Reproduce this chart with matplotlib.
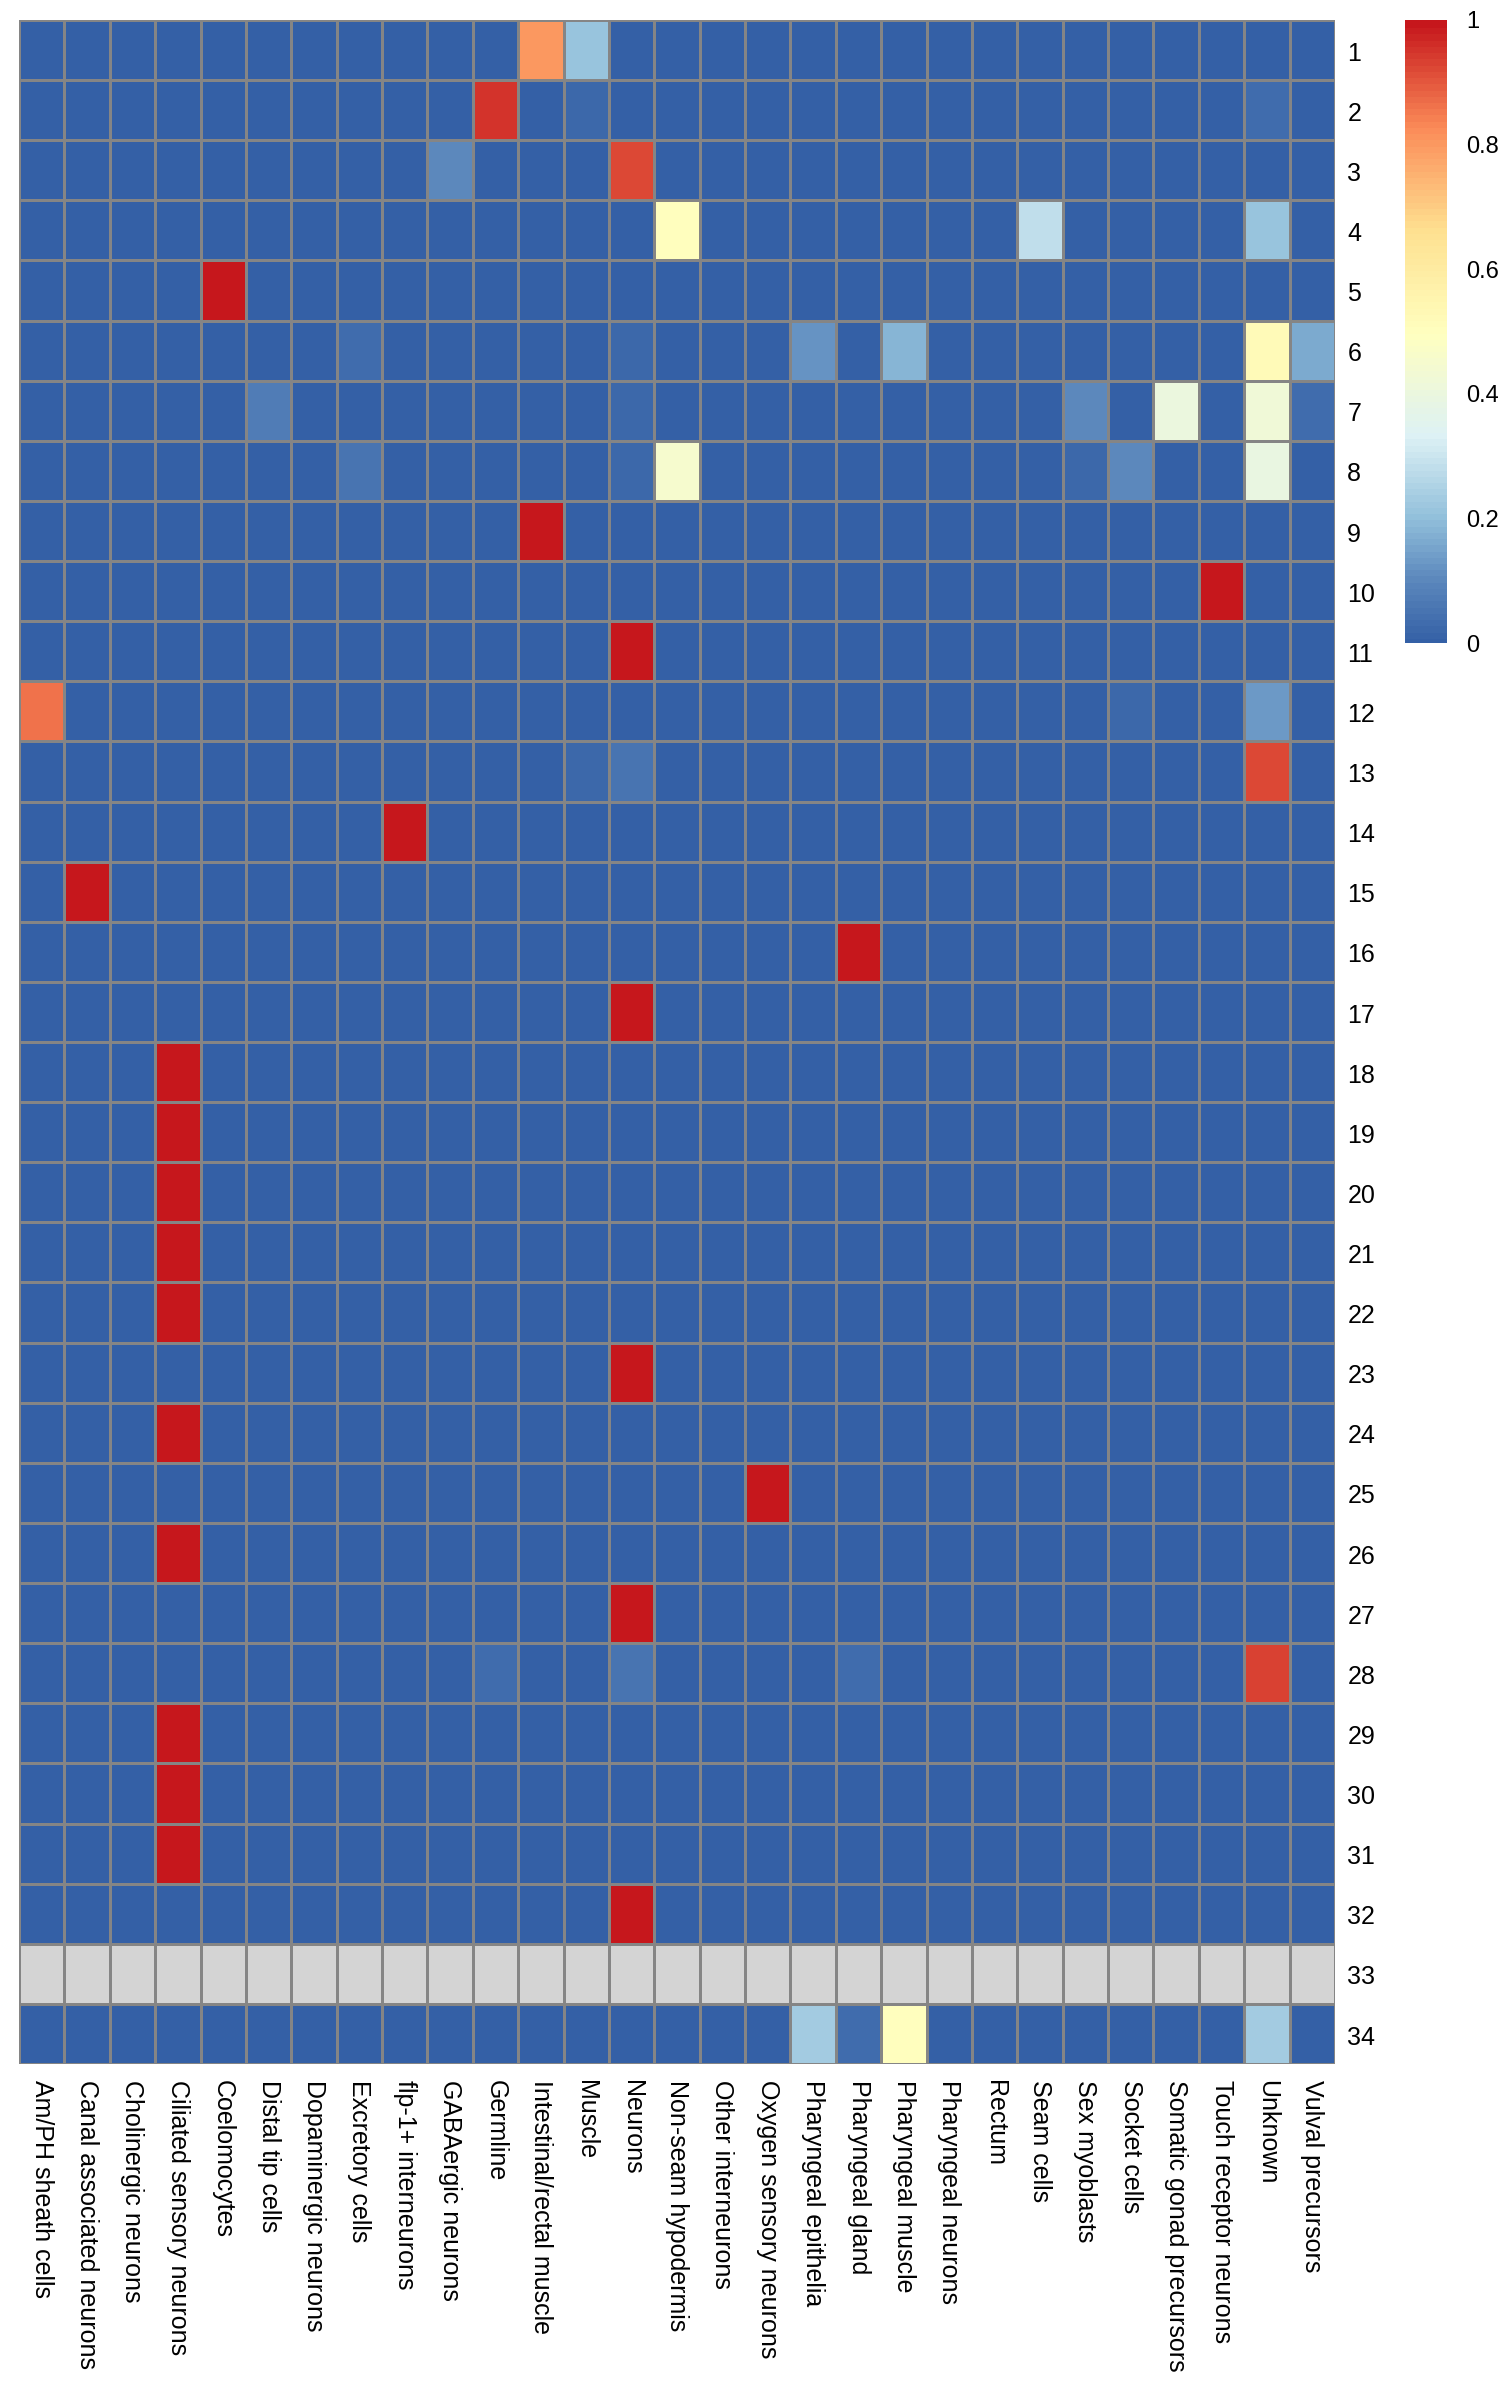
import numpy as np
import matplotlib
matplotlib.use("Agg")
import matplotlib.pyplot as plt
from matplotlib.colors import LinearSegmentedColormap

plt.rcParams['font.family'] = ['Liberation Sans', 'DejaVu Sans']

cell_types = ["Am/PH sheath cells", "Canal associated neurons", "Cholinergic neurons",
              "Ciliated sensory neurons", "Coelomocytes", "Distal tip cells",
              "Dopaminergic neurons", "Excretory cells", "flp-1+ interneurons",
              "GABAergic neurons", "Germline", "Intestinal/rectal muscle", "Muscle",
              "Neurons", "Non-seam hypodermis", "Other interneurons",
              "Oxygen sensory neurons", "Pharyngeal epithelia", "Pharyngeal gland",
              "Pharyngeal muscle", "Pharyngeal neurons", "Rectum", "Seam cells",
              "Sex myoblasts", "Socket cells", "Somatic gonad precursors",
              "Touch receptor neurons", "Unknown", "Vulval precursors"]

cluster_labels = [str(i) for i in range(1, 35)]

# Non-zero fractions per cluster (all other cell types are 0); cluster 33 is NA
cluster_1 = {"Intestinal/rectal muscle": 0.80, "Muscle": 0.21}
cluster_2 = {"Germline": 0.95, "Muscle": 0.02, "Unknown": 0.03}
cluster_3 = {"GABAergic neurons": 0.10, "Neurons": 0.92}
cluster_4 = {"Non-seam hypodermis": 0.50, "Seam cells": 0.28, "Unknown": 0.21}
cluster_5 = {"Coelomocytes": 1.0}
cluster_6 = {"Excretory cells": 0.03, "Neurons": 0.02, "Pharyngeal epithelia": 0.12,
             "Pharyngeal muscle": 0.18, "Unknown": 0.52, "Vulval precursors": 0.16}
cluster_7 = {"Distal tip cells": 0.07, "Neurons": 0.02, "Sex myoblasts": 0.10,
             "Somatic gonad precursors": 0.40, "Unknown": 0.42, "Vulval precursors": 0.03}
cluster_8 = {"Excretory cells": 0.05, "Neurons": 0.02, "Non-seam hypodermis": 0.45,
             "Sex myoblasts": 0.02, "Socket cells": 0.10, "Unknown": 0.39}
cluster_9 = {"Intestinal/rectal muscle": 1.0}
cluster_10 = {"Touch receptor neurons": 1.0}
cluster_11 = {"Neurons": 1.0}
cluster_12 = {"Am/PH sheath cells": 0.86, "Socket cells": 0.02, "Unknown": 0.13}
cluster_13 = {"Muscle": 0.02, "Neurons": 0.05, "Unknown": 0.92}
cluster_14 = {"flp-1+ interneurons": 1.0}
cluster_15 = {"Canal associated neurons": 1.0}
cluster_16 = {"Pharyngeal gland": 1.0}
cluster_17 = {"Neurons": 1.0}
cluster_18 = {"Ciliated sensory neurons": 1.0}
cluster_19 = {"Ciliated sensory neurons": 1.0}
cluster_20 = {"Ciliated sensory neurons": 1.0}
cluster_21 = {"Ciliated sensory neurons": 1.0}
cluster_22 = {"Ciliated sensory neurons": 1.0}
cluster_23 = {"Neurons": 1.0}
cluster_24 = {"Ciliated sensory neurons": 1.0}
cluster_25 = {"Oxygen sensory neurons": 1.0}
cluster_26 = {"Ciliated sensory neurons": 1.0}
cluster_27 = {"Neurons": 1.0}
cluster_28 = {"Germline": 0.03, "Neurons": 0.05, "Pharyngeal gland": 0.03, "Unknown": 0.93}
cluster_29 = {"Ciliated sensory neurons": 1.0}
cluster_30 = {"Ciliated sensory neurons": 1.0}
cluster_31 = {"Ciliated sensory neurons": 1.0}
cluster_32 = {"Neurons": 1.0}
cluster_33 = None
cluster_34 = {"Pharyngeal epithelia": 0.23, "Pharyngeal gland": 0.03,
              "Pharyngeal muscle": 0.50, "Unknown": 0.23}

clusters = [cluster_1, cluster_2, cluster_3, cluster_4, cluster_5, cluster_6, cluster_7,
            cluster_8, cluster_9, cluster_10, cluster_11, cluster_12, cluster_13,
            cluster_14, cluster_15, cluster_16, cluster_17, cluster_18, cluster_19,
            cluster_20, cluster_21, cluster_22, cluster_23, cluster_24, cluster_25,
            cluster_26, cluster_27, cluster_28, cluster_29, cluster_30, cluster_31,
            cluster_32, cluster_33, cluster_34]

colorbar_ticks = [0, 0.2, 0.4, 0.6, 0.8, 1]
colorbar_ticklabels = ["0", "0.2", "0.4", "0.6", "0.8", "1"]

# ---- build matrix ----
nrow, ncol = len(cluster_labels), len(cell_types)
mat = np.zeros((nrow, ncol))
for i, cl in enumerate(clusters):
    if cl is None:
        mat[i, :] = np.nan
    else:
        for k, v in cl.items():
            mat[i, cell_types.index(k)] = v
mat = np.ma.masked_invalid(mat)

cmap = LinearSegmentedColormap.from_list(
    "rdylbu_custom",
    [(0.0, "#3460A6"), (0.1, "#5B87BC"), (0.2, "#91BFDB"), (0.333, "#DDF1F5"),
     (0.5, "#FFFFBF"), (0.667, "#FEE090"), (0.833, "#FB8B58"), (1.0, "#C6171C")], N=100)
cmap.set_bad("#D4D4D4")

W, H = 1500, 2400
fig = plt.figure(figsize=(W / 100, H / 100), dpi=100)
left, right, top, bottom = 19, 1335, 20, 2064
ax = fig.add_axes([left / W, 1 - bottom / H, (right - left) / W, (bottom - top) / H])

mesh = ax.pcolormesh(np.arange(ncol + 1), np.arange(nrow + 1), mat, cmap=cmap,
                     vmin=0, vmax=1, edgecolors="#858585", linewidth=1.9)
ax.set_xlim(0, ncol)
ax.set_ylim(nrow, 0)
for s in ax.spines.values():
    s.set_visible(False)
ax.tick_params(length=0)
ax.set_xticks([])
ax.set_yticks([])

fs = 18
for i, lab in enumerate(cluster_labels):
    ax.text(ncol + 0.27, i + 0.56, lab, ha="left", va="center", fontsize=fs)
for j, lab in enumerate(cell_types):
    ax.text(j + 0.5, nrow + 0.27, lab, ha="center", va="top", rotation=270,
            fontsize=fs)

cax = fig.add_axes([1405 / W, 1 - 643 / H, 42 / W, (643 - 20) / H])
cb = fig.colorbar(mesh, cax=cax, ticks=colorbar_ticks)
cb.outline.set_visible(False)
cb.ax.set_yticklabels(colorbar_ticklabels)
cb.ax.tick_params(length=0, labelsize=17, pad=14)
cb.solids.set_edgecolor("face")

fig.savefig("out.png", dpi=100, facecolor="white")
